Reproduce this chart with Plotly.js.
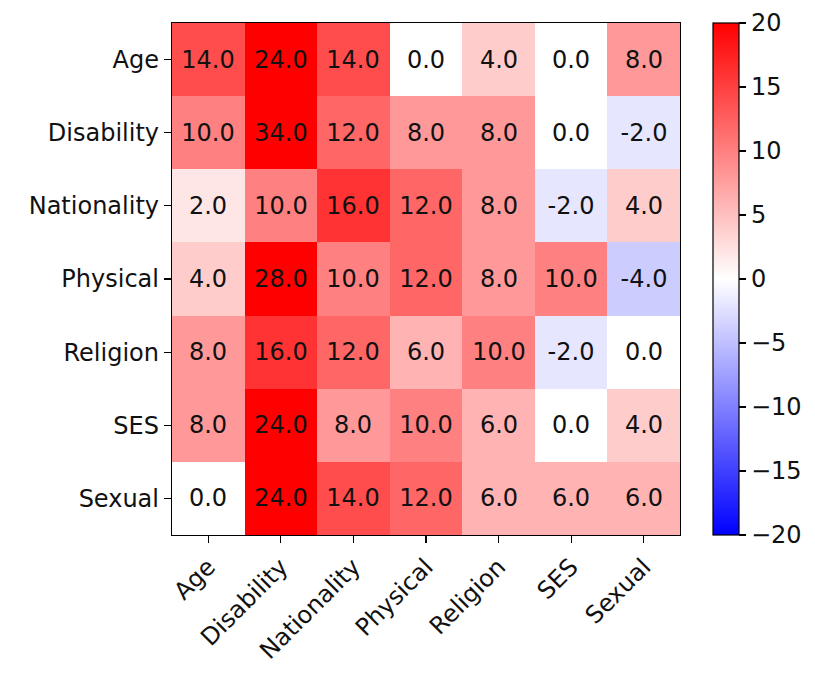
<!DOCTYPE html>
<html>
<head>
<meta charset="utf-8">
<script src="https://cdn.plot.ly/plotly-3.0.1.min.js"></script>
<style>html,body{margin:0;padding:0;background:#fff;}</style>
</head>
<body>
<div id="chart" style="width:815px;height:680px;"></div>
<script>
const categories = ["Age", "Disability", "Nationality", "Physical", "Religion", "SES", "Sexual"];
const rowAge         = [14, 24, 14, 0, 4, 0, 8];
const rowDisability  = [10, 34, 12, 8, 8, 0, -2];
const rowNationality = [2, 10, 16, 12, 8, -2, 4];
const rowPhysical    = [4, 28, 10, 12, 8, 10, -4];
const rowReligion    = [8, 16, 12, 6, 10, -2, 0];
const rowSES         = [8, 24, 8, 10, 6, 0, 4];
const rowSexual      = [0, 24, 14, 12, 6, 6, 6];
const colorbarTicks  = [20, 15, 10, 5, 0, -5, -10, -15, -20];

const z = [rowAge, rowDisability, rowNationality, rowPhysical, rowReligion, rowSES, rowSexual];
const text = z.map(r => r.map(v => v.toFixed(1)));
const font = "DejaVu Sans, sans-serif";
const fs = 24;

const trace = {
  type: "heatmap",
  x: categories,
  y: categories,
  z: z,
  zmin: -20,
  zmax: 20,
  colorscale: [[0, "rgb(0,0,255)"], [0.5, "rgb(255,255,255)"], [1, "rgb(255,0,0)"]],
  text: text,
  texttemplate: "%{text}",
  textfont: {family: font, size: fs, color: "#111"},
  hoverinfo: "skip",
  xgap: 0, ygap: 0,
  colorbar: {
    x: 1.0646, xanchor: "left", xpad: 0, ypad: 0,
    y: 0.5, yanchor: "middle", len: 1, lenmode: "fraction",
    thickness: 26, thicknessmode: "pixels",
    outlinewidth: 1.2, outlinecolor: "#000",
    tickmode: "array", tickvals: colorbarTicks,
    ticks: "outside", ticklen: 7, tickwidth: 1.2, tickcolor: "#000",
    tickfont: {family: font, size: fs, color: "#111"}
  }
};

const layout = {
  width: 815, height: 680,
  margin: {l: 172, r: 132, t: 23, b: 145},
  paper_bgcolor: "#fff", plot_bgcolor: "#fff",
  font: {family: font, size: fs, color: "#111"},
  xaxis: {
    tickangle: -45, ticks: "outside", ticklen: 7, tickwidth: 1.2, tickcolor: "#000",
    showline: true, mirror: true, linecolor: "#000", linewidth: 1.2,
    showgrid: false, zeroline: false, tickfont: {family: font, size: fs, color: "#111"}
  },
  yaxis: {
    autorange: "reversed", ticks: "outside", ticklen: 7, tickwidth: 1.2, tickcolor: "#000",
    showline: true, mirror: true, linecolor: "#000", linewidth: 1.2,
    showgrid: false, zeroline: false, tickfont: {family: font, size: fs, color: "#111"}
  }
};

Plotly.newPlot("chart", [trace], layout, {displayModeBar: false, staticPlot: true});
</script>
</body>
</html>
